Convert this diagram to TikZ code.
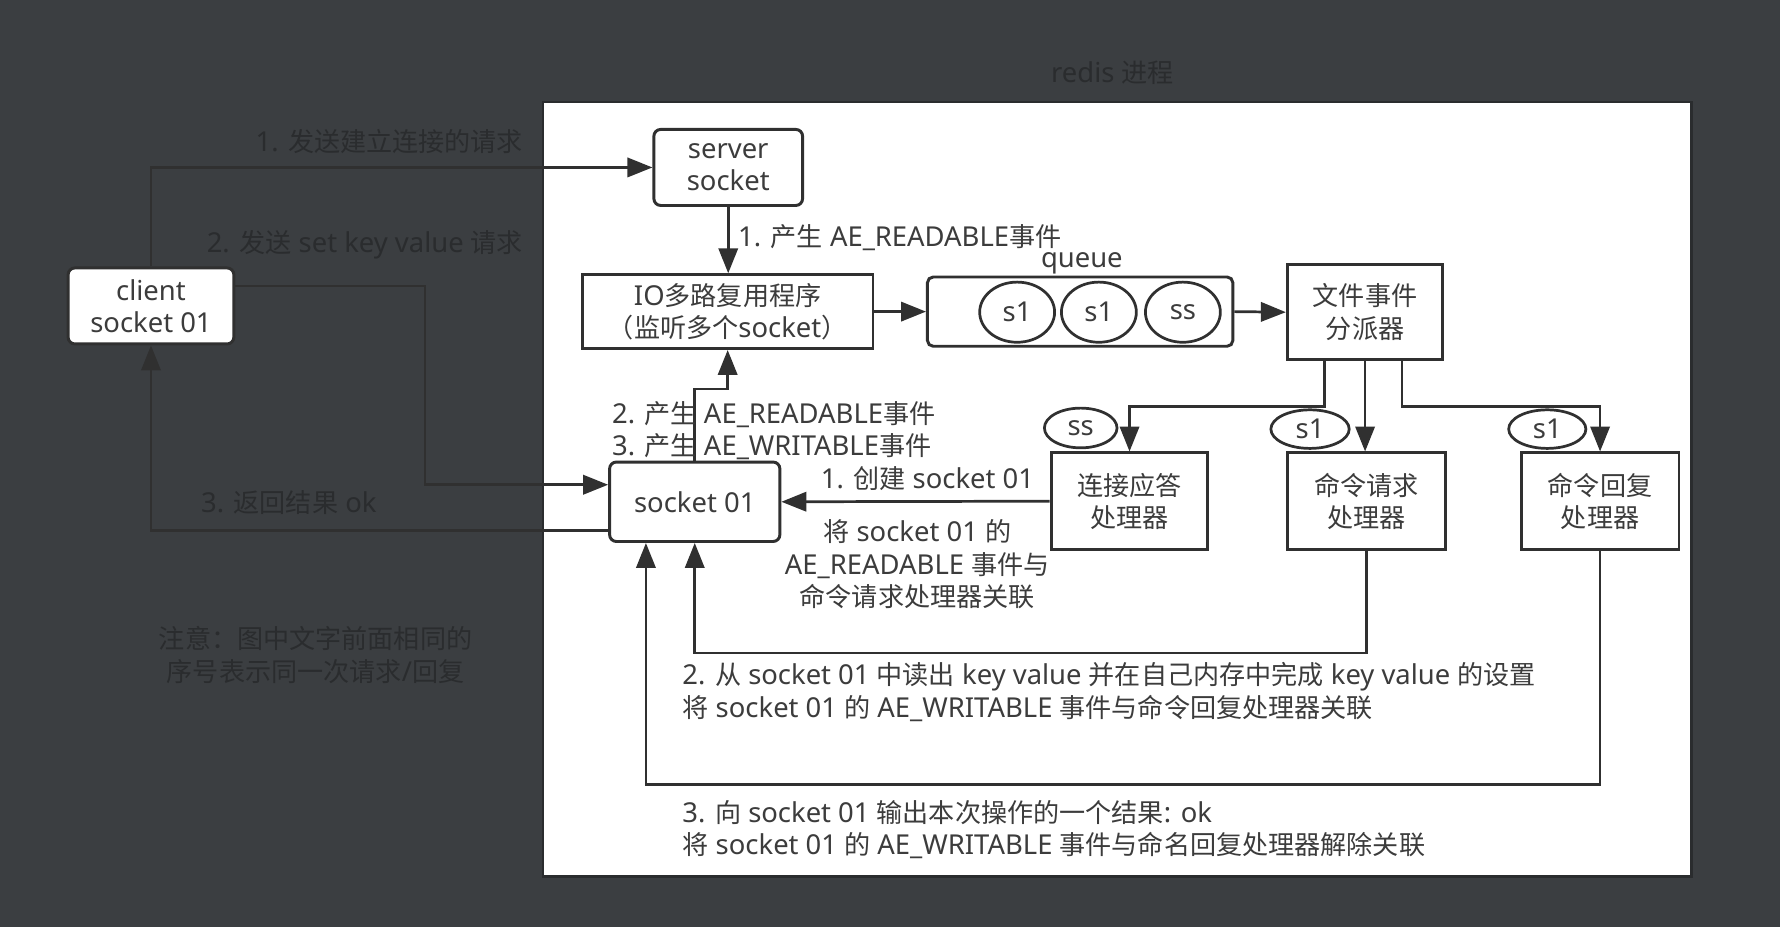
\documentclass[tikz,border=0pt]{standalone}
\usepackage{fontspec}
\setmainfont{Noto Sans}[Scale=1.05]
\newfontfamily\latinfont{Noto Sans}[Scale=1.05]
\newfontfamily\cjkfont{Noto Sans CJK SC}
\usetikzlibrary{arrows.meta,shapes.geometric,calc}
\newcount\cjkcnt
\XeTeXinterchartokenstate=1
\newXeTeXintercharclass\CJKcls
\cjkcnt="4E00
\loop
  \XeTeXcharclass\cjkcnt=\CJKcls
  \ifnum\cjkcnt<"9FFF \advance\cjkcnt by 1
\repeat
\XeTeXcharclass"FF08=\CJKcls
\XeTeXcharclass"FF09=\CJKcls
\XeTeXcharclass"FF1A=\CJKcls
\XeTeXinterchartoks 0 \CJKcls = {\cjkfont}
\XeTeXinterchartoks 4095 \CJKcls = {\cjkfont}
\XeTeXinterchartoks \CJKcls 0 = {\latinfont}
\XeTeXinterchartoks \CJKcls 4095 = {\latinfont}
\definecolor{bg}{HTML}{3B3E41}
\definecolor{dk}{HTML}{2A2C2E}
\definecolor{ln}{HTML}{303030}
\definecolor{tx}{HTML}{3C3C3C}
\begin{document}
\begin{tikzpicture}[x=1pt,y=-1pt,
  every node/.style={font=\fontsize{23}{28.5}\selectfont, text=tx, inner sep=0pt},
  box/.style={draw=ln, line width=2.6pt, fill=white, align=center},
  rbox/.style={box, rounded corners=6pt},
  oval/.style={ellipse, draw=ln, line width=2.4pt, fill=white, inner sep=0pt},
  conn/.style={draw=ln, line width=2.4pt, -{Triangle[length=22pt,width=17pt]}},
  dtext/.style={text=dk},
]
\useasboundingbox (0,0) rectangle (1568,817);
\fill[bg] (0,0) rectangle (1568,817);
\node[draw=dk, line width=2pt, fill=white, minimum width=1012pt, minimum height=682pt] (panel) at (984,431) {};

% boxes
\node[rbox, minimum width=146pt, minimum height=67pt] (client) at (133,269.5) {client\\socket 01};
\node[rbox, minimum width=131pt, minimum height=67pt] (server) at (641.5,147.5) {server\\socket};
\node[box, minimum width=256pt, minimum height=65pt] (io) at (641,274.5) {IO多路复用程序\\（监听多个socket）};
\node[rbox, rounded corners=5pt, minimum width=269pt, minimum height=61pt] (queue) at (951.5,274.5) {};
\node[oval, minimum width=66pt, minimum height=53pt] (q1) at (896,275) {s1};
\node[oval, minimum width=66pt, minimum height=53pt] (q2) at (968,275) {s1};
\node[oval, minimum width=66pt, minimum height=53pt] (q3) at (1042,275) {ss};
\node[box, minimum width=137pt, minimum height=84pt] (disp) at (1202.5,275) {文件事件\\分派器};
\node[box, minimum width=138pt, minimum height=85pt] (conn) at (995,441.5) {连接应答\\处理器};
\node[box, minimum width=139pt, minimum height=85pt] (req) at (1203.5,441.5) {命令请求\\处理器};
\node[box, minimum width=139pt, minimum height=85pt] (rep) at (1409.5,441.5) {命令回复\\处理器};
\node[rbox, minimum width=150pt, minimum height=70pt] (sock) at (612,442) {socket 01};
\node[oval, minimum width=64pt, minimum height=35pt] (e1) at (952,377) {ss};
\node[oval, minimum width=69pt, minimum height=34pt] (e2) at (1154,378) {s1};
\node[oval, minimum width=68pt, minimum height=34pt] (e3) at (1363,378) {s1};

% connectors
\draw[conn] (client.north) |- (server.west);
\draw[conn] ([yshift=17.5pt]client.east) -- ++(167,0) |- ([yshift=15pt]sock.west);
\draw[conn] ([yshift=-25pt]sock.west) -| (client.south);
\draw[conn] (server.south) -- (server.south |- io.north);
\draw[conn] (io.east) -- (queue.west);
\draw[conn] (queue.east) -- (disp.west);
\draw[conn] ([xshift=-35.5pt]disp.south) -- ++(0,40) -| (conn.north);
\draw[conn] (disp.south) -- (disp.south |- req.north);
\draw[conn] ([xshift=32.5pt]disp.south) -- ++(0,40) -| (rep.north);
\draw[conn] (conn.west) -- (sock.east);
\draw[conn] (sock.north) -- ++(0,-63) -| (io.south);
\draw[conn] (req.south) -- ++(0,90) -| (sock.south);
\draw[conn] (rep.south) -- ++(0,206) -| ([xshift=-43pt]sock.south);

% labels
\node[dtext] (title) at (980,64) {redis 进程};
\node[dtext, anchor=east] (l1) at (461,125) {1. 发送建立连接的请求};
\node[dtext, anchor=east] (l2) at (461,216) {2. 发送 set key value 请求};
\node[dtext, anchor=west] (l3) at (177,443) {3. 返回结果 ok};
\node[dtext, align=center] (note) at (278,577) {注意：图中文字前面相同的\\序号表示同一次请求/回复};
\node[anchor=west] (lr1) at (650,209) {1. 产生 AE\_READABLE事件};
\node (ql) at (953,232) {queue};
\node[anchor=west, align=left] (lr2) at (539,379.5) {2. 产生 AE\_READABLE事件\\3. 产生 AE\_WRITABLE事件};
\node (lc) at (817,422) {1. 创建 socket 01};
\node[align=center] (lc2) at (808,497) {将 socket 01 的\\AE\_READABLE 事件与\\命令请求处理器关联};
\node[anchor=west, align=left] (lb1) at (601,609.5) {2. 从 socket 01 中读出 key value 并在自己内存中完成 key value 的设置\\将 socket 01 的 AE\_WRITABLE 事件与命令回复处理器关联};
\node[anchor=west, align=left] (lb2) at (601,730.5) {3. 向 socket 01 输出本次操作的一个结果: ok\\将 socket 01 的 AE\_WRITABLE 事件与命名回复处理器解除关联};
\end{tikzpicture}
\end{document}
